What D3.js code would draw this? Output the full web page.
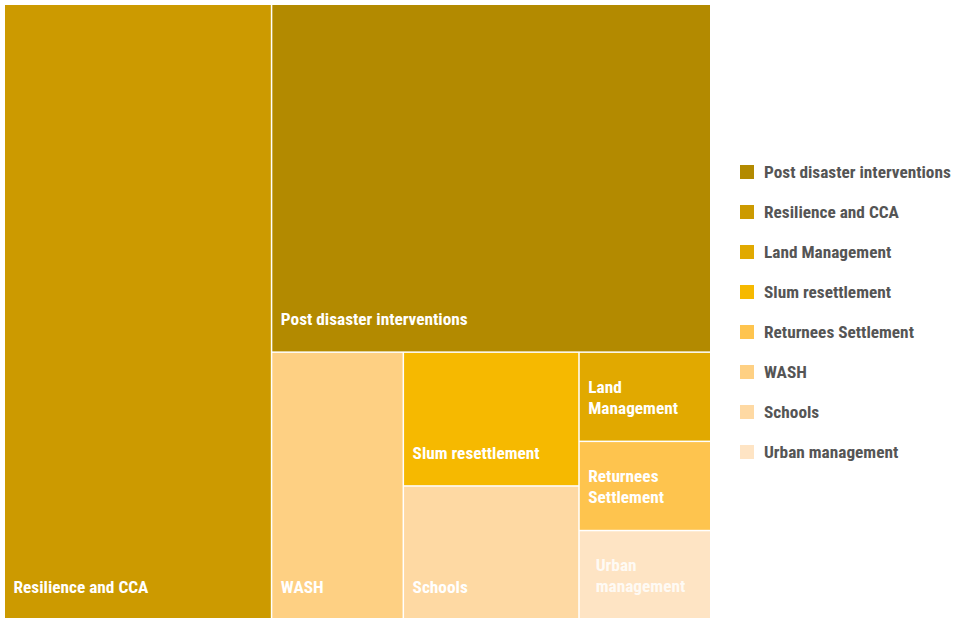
<!DOCTYPE html>
<html>
<head>
<meta charset="utf-8">
<script src="https://cdn.jsdelivr.net/npm/d3@7"></script>
<style>
  body { margin: 0; background: #fff; }
  svg text { font-family: "Roboto Condensed", "Liberation Sans Narrow", "DejaVu Sans Condensed", Roboto, sans-serif; font-weight: 700; }
</style>
</head>
<body>
<div id="chart"></div>
<script>
// categories in legend order
let categories = ["Post disaster interventions", "Resilience and CCA", "Land Management", "Slum resettlement",
  "Returnees Settlement", "WASH", "Schools", "Urban management"];
// number of projects per category
let counts = [13, 14, 1, 2, 1, 3, 2, 1];
let colors = ["#b38a00", "#cc9a00", "#e1a900", "#f6b900", "#fec44e", "#fed083", "#fed9a3", "#fee4c4"];

let width = 957, height = 618;
let margin = {top: 5, left: 5};
let mapW = 705, mapH = 614;
let fontSize = 17.3;

let svg = d3.select("#chart").append("svg")
  .attr("width", width)
  .attr("height", height);

let color = d3.scaleOrdinal().domain(categories).range(colors);

// strip tiling: peel off the run of largest (equal) values as a strip
// along the longer side, then recurse on what is left
function stripTile(parent, x0, y0, x1, y1) {
  let nodes = parent.children;
  function layout(i, x0, y0, x1, y1) {
    if (i >= nodes.length) return;
    let j = i;
    while (j < nodes.length && nodes[j].value === nodes[i].value) j++;
    let group = nodes.slice(i, j);
    let gv = d3.sum(group, d => d.value);
    let rest = d3.sum(nodes.slice(j), d => d.value);
    let total = gv + rest;
    let sx0 = x0, sy0 = y0, sx1 = x1, sy1 = y1;
    if (x1 - x0 > y1 - y0) {
      sx1 = x0 + (x1 - x0) * gv / total;
      layout(j, sx1, y0, x1, y1);
    } else {
      sy1 = y0 + (y1 - y0) * gv / total;
      layout(j, x0, sy1, x1, y1);
    }
    let fake = {children: group, value: gv};
    if (sx1 - sx0 > sy1 - sy0) d3.treemapDice(fake, sx0, sy0, sx1, sy1);
    else d3.treemapSlice(fake, sx0, sy0, sx1, sy1);
  }
  layout(0, x0, y0, x1, y1);
}

let root = d3.hierarchy({children: categories.map((c, i) => ({name: c, value: counts[i]}))})
  .sum(d => d.value || 0)
  .sort((a, b) => b.value - a.value);

d3.treemap()
  .tile(stripTile)
  .size([mapW, mapH])
  .paddingInner(1.5)(root);

let g = svg.append("g")
  .attr("transform", "translate(" + margin.left + "," + margin.top + ")");

let cell = g.selectAll("g.cell")
  .data(root.leaves())
  .join("g")
  .attr("class", "cell")
  .attr("transform", d => "translate(" + d.x0 + "," + d.y0 + ")");

cell.append("rect")
  .attr("width", d => d.x1 - d.x0)
  .attr("height", d => d.y1 - d.y0)
  .attr("fill", d => color(d.data.name));

cell.each(function(d) {
  let w = d.x1 - d.x0, h = d.y1 - d.y0;
  let fade = d.data.name === "Urban management";
  let tx = fade ? 16 : 8.5;
  let t = d3.select(this).append("text")
    .attr("fill", "#fff")
    .attr("font-size", fontSize)
    .attr("opacity", fade ? 0.82 : 1);
  // measure, break into words if too wide
  let probe = t.append("tspan").text(d.data.name);
  let lines = probe.node().getComputedTextLength() > w - 18 ? d.data.name.split(" ") : [d.data.name];
  probe.remove();
  let bottom = lines.length > 1 ? 27 : 26;
  lines.forEach((l, i) => {
    t.append("tspan")
      .attr("x", tx)
      .attr("y", h - bottom - (lines.length - 1 - i) * 21)
      .text(l);
  });
});

// legend
let legend = svg.append("g")
  .attr("transform", "translate(740,165)");

let item = legend.selectAll("g")
  .data(categories)
  .join("g")
  .attr("transform", (d, i) => "translate(0," + i * 40 + ")");

item.append("rect")
  .attr("width", 14)
  .attr("height", 14)
  .attr("fill", d => color(d));

item.append("text")
  .attr("x", 24)
  .attr("y", 13)
  .attr("font-size", fontSize)
  .attr("fill", "#555")
  .text(d => d);
</script>
</body>
</html>
